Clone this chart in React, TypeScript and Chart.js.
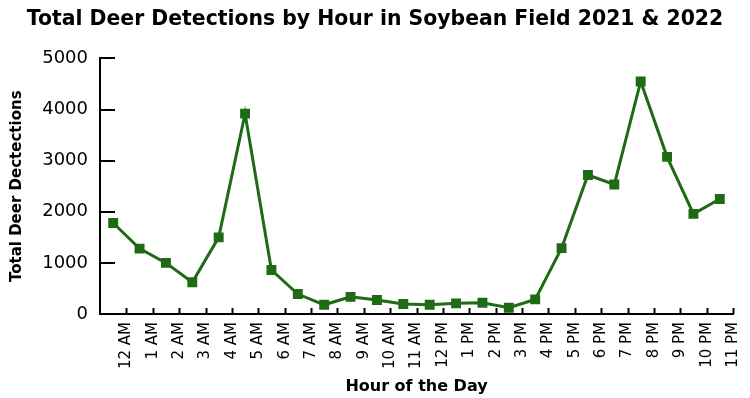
import React, { useEffect, useRef } from 'react';
import { Chart, registerables } from 'chart.js';

Chart.register(...registerables);

const hourLabels = [
  '12 AM', '1 AM', '2 AM', '3 AM', '4 AM', '5 AM', '6 AM', '7 AM', '8 AM', '9 AM', '10 AM', '11 AM',
  '12 PM', '1 PM', '2 PM', '3 PM', '4 PM', '5 PM', '6 PM', '7 PM', '8 PM', '9 PM', '10 PM', '11 PM',
];
const detections = [
  1780, 1280, 1000, 620, 1500, 3920, 860, 390, 180, 335, 275, 195,
  180, 208, 220, 123, 286, 1290, 2720, 2535, 4550, 3075, 1960, 2250,
];
const yMin = 0;
const yMax = 5000;
const yStep = 1000;

const chartTitle = 'Total Deer Detections by Hour in Soybean Field 2021 & 2022';
const xTitle = 'Hour of the Day';
const yTitle = 'Total Deer Dectections';

const GREEN = '#1f6a14';
const FONT = "'DejaVu Sans', sans-serif";

const innerTicks = {
  id: 'innerTicks',
  beforeDatasetsDraw(chart: any) {
    const { ctx } = chart;
    const xs = chart.scales.x;
    const ys = chart.scales.y;
    ctx.save();
    ctx.strokeStyle = '#000';
    ctx.lineWidth = 2;
    ctx.beginPath();
    ys.ticks.forEach((t: any) => {
      if (t.value <= yMin) return;
      const py = Math.round(ys.getPixelForValue(t.value));
      ctx.moveTo(xs.left, py);
      ctx.lineTo(xs.left + 15, py);
    });
    xs.ticks.forEach((t: any) => {
      if (t.value <= 0) return;
      const px = Math.round(xs.getPixelForValue(t.value)) + 0.5;
      ctx.moveTo(px, ys.bottom);
      ctx.lineTo(px, ys.bottom - 6);
    });
    ctx.stroke();
    ctx.restore();
  },
};

export default function App() {
  const ref = useRef<HTMLCanvasElement | null>(null);
  useEffect(() => {
    document.body.style.margin = '0';
    const canvas = ref.current;
    if (!canvas) return;
    const chart = new Chart(canvas, {
      type: 'line',
      data: {
        datasets: [
          {
            label: yTitle,
            data: detections.map((v, i) => ({ x: i + 0.5, y: v })),
            borderColor: GREEN,
            backgroundColor: GREEN,
            borderWidth: 3,
            pointStyle: 'rect',
            pointRadius: 7,
            pointBorderWidth: 0,
            pointBackgroundColor: GREEN,
            tension: 0,
          },
        ],
      },
      options: {
        animation: false,
        responsive: false,
        maintainAspectRatio: false,
        layout: { padding: { left: 0, right: 0, top: 0, bottom: 0 } },
        plugins: {
          legend: { display: false },
          tooltip: { enabled: false },
          title: {
            display: true,
            text: chartTitle,
            color: '#000',
            font: { family: FONT, size: 20.4, weight: 'bold' },
            padding: { top: 7, bottom: 27 },
          },
        },
        scales: {
          x: {
            type: 'linear',
            min: 0,
            max: hourLabels.length,
            afterFit(scale: any) {
              scale.height = 84;
              scale.paddingLeft = 0;
              scale.paddingRight = 17;
            },
            grid: { display: true, drawOnChartArea: false, drawTicks: false },
            border: { display: true, color: '#000', width: 2 },
            ticks: {
              stepSize: 1,
              autoSkip: false,
              maxRotation: 90,
              minRotation: 90,
              padding: 8,
              color: '#000',
              font: { family: FONT, size: 15 },
              callback: (v: any) => (v >= 1 && v <= hourLabels.length ? hourLabels[v - 1] : ''),
            },
            title: {
              display: true,
              text: xTitle,
              color: '#000',
              font: { family: FONT, size: 16, weight: 'bold' },
              padding: { top: 0, bottom: 2 },
            },
          },
          y: {
            min: yMin,
            max: yMax,
            afterFit(scale: any) {
              scale.width = 100;
            },
            grid: { display: true, drawOnChartArea: false, drawTicks: false },
            border: { display: true, color: '#000', width: 2 },
            ticks: {
              stepSize: yStep,
              padding: 12,
              color: '#000',
              font: { family: FONT, size: 18 },
              callback: (v: any) => String(v),
            },
            title: {
              display: true,
              text: yTitle,
              color: '#000',
              font: { family: FONT, size: 15, weight: 'bold' },
              padding: { top: 8, bottom: 0 },
            },
          },
        },
      },
      plugins: [innerTicks],
    });
    return () => chart.destroy();
  }, []);
  return (
    <div style={{ position: 'absolute', left: 0, top: 0, width: 750, height: 398, background: '#fff' }}>
      <canvas ref={ref} width={750} height={398} style={{ display: 'block', width: 750, height: 398 }} />
    </div>
  );
}
